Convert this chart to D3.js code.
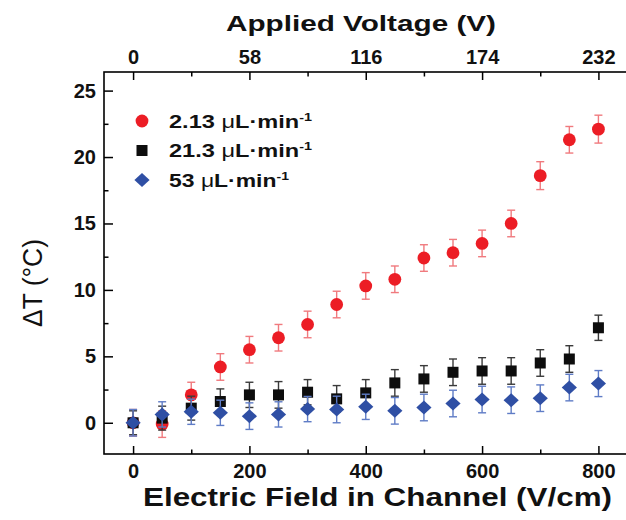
<!DOCTYPE html>
<html>
  <head>
    <meta charset="utf-8">
    <style>
body { margin: 0; background: #fff; }
svg { display: block; font-family: "Liberation Sans", Arial, sans-serif; }
.axis path { display: none; }
.axis line { stroke: #000; stroke-width: 1.5; }
.axis text { font-size: 20px; font-weight: bold; fill: #111; font-family: "Liberation Sans", Arial, sans-serif; }
    </style>
    <script src="https://d3js.org/d3.v7.min.js"></script>
  </head>
  <body>
    <svg width="626" height="520"></svg>
    <script>

// electric field in channel (V/cm)
var field = [0, 50, 100, 150, 200, 250, 300, 350, 400, 450, 500, 550, 600, 650, 700, 750, 800];

// delta T (degC) for each flow rate
var red =   [0, -0.1, 2.1, 4.2, 5.5, 6.4, 7.4, 8.9, 10.3, 10.8, 12.4, 12.8, 13.5, 15.0, 18.6, 21.3, 22.1];
var black = [0, 0.35, 1.1, 1.6, 2.1, 2.1, 2.3, 1.8, 2.25, 3.0, 3.3, 3.8, 3.9, 3.9, 4.5, 4.8, 7.15];
var blue =  [0, 0.63, 0.83, 0.75, 0.5, 0.63, 1.03, 1.0, 1.2, 0.9, 1.15, 1.45, 1.75, 1.7, 1.85, 2.65, 2.95];

var redErr =   [1.0, 1.0, 0.95, 1.0, 1.0, 1.0, 1.0, 1.0, 1.0, 1.0, 1.0, 1.0, 1.0, 1.0, 1.05, 1.0, 1.05];
var blackErr = [0.9, 0.9, 0.9, 0.95, 0.95, 1.0, 0.95, 1.0, 1.0, 1.0, 1.0, 1.0, 1.0, 1.0, 1.0, 1.0, 0.95];
var blueErr =  [1.0, 0.95, 0.95, 0.95, 1.0, 0.95, 0.95, 1.0, 0.95, 1.0, 1.0, 1.0, 1.0, 1.0, 1.0, 1.0, 0.98];

var legendLabels = ["2.13", "21.3", "53"];

var fieldTicks = [0, 200, 400, 600, 800],
    fieldMinor = [100, 300, 500, 700],
    voltTicks = [0, 58, 116, 174, 232],
    voltMinor = [29, 87, 145, 203],
    yTicks = [0, 5, 10, 15, 20, 25],
    yMinor = [2.5, 7.5, 12.5, 17.5, 22.5];

var svg = d3.select("svg");

var x = d3.scaleLinear().domain([-50, 850]).range([104, 627.5]),
    xv = d3.scaleLinear().domain([-50 * 0.29, 850 * 0.29]).range([104, 627.5]),
    y = d3.scaleLinear().domain([-2.35, 26.4]).range([454, 72]);

// frame
svg.append("rect")
  .attr("x", 104).attr("y", 72)
  .attr("width", x.range()[1] - 104).attr("height", 454 - 72)
  .attr("fill", "none").attr("stroke", "#000").attr("stroke-width", 1.6);

// bottom axis
svg.append("g").attr("class", "axis")
  .attr("transform", "translate(0,454)")
  .call(d3.axisBottom(x).tickValues(fieldTicks).tickSize(-8).tickPadding(10).tickFormat(d3.format("d")));
svg.append("g").attr("class", "axis")
  .attr("transform", "translate(0,454)")
  .call(d3.axisBottom(x).tickValues(fieldMinor).tickSize(-4.5).tickFormat(""));

// top axis
svg.append("g").attr("class", "axis")
  .attr("transform", "translate(0,72)")
  .call(d3.axisTop(xv).tickValues(voltTicks).tickSize(-8).tickPadding(8).tickFormat(d3.format("d")));
svg.append("g").attr("class", "axis")
  .attr("transform", "translate(0,72)")
  .call(d3.axisTop(xv).tickValues(voltMinor).tickSize(-4.5).tickFormat(""));

// left axis
svg.append("g").attr("class", "axis")
  .attr("transform", "translate(104,0)")
  .call(d3.axisLeft(y).tickValues(yTicks).tickSize(-9).tickPadding(8).tickFormat(d3.format("d")));
svg.append("g").attr("class", "axis")
  .attr("transform", "translate(104,0)")
  .call(d3.axisLeft(y).tickValues(yMinor).tickSize(-4.5).tickFormat(""));

// axis titles
svg.append("text")
  .attr("x", 226).attr("y", 31)
  .attr("textLength", 270).attr("lengthAdjust", "spacingAndGlyphs")
  .style("font-size", "22px").style("font-weight", "bold").style("fill", "#111")
  .text("Applied Voltage (V)");

svg.append("text")
  .attr("x", 143).attr("y", 506)
  .attr("textLength", 469).attr("lengthAdjust", "spacingAndGlyphs")
  .style("font-size", "25px").style("font-weight", "bold").style("fill", "#111")
  .text("Electric Field in Channel (V/cm)");

svg.append("text")
  .attr("transform", "translate(42,327) rotate(-90)")
  .attr("textLength", 88).attr("lengthAdjust", "spacingAndGlyphs")
  .style("font-size", "27px").style("fill", "#111")
  .text("\u0394T (\u00b0C)");

var series = [
  {vals: red, err: redErr, fill: "#ec1d25", bar: "#f07a7e", shape: "circle"},
  {vals: black, err: blackErr, fill: "#0d0d0d", bar: "#3a3a3a", shape: "square"},
  {vals: blue, err: blueErr, fill: "#2f4fa4", bar: "#5f7cc6", shape: "diamond"}
];

function marker(g, shape, fill) {
  if (shape === "circle") {
    g.append("circle").attr("r", 6.4).attr("fill", fill);
  } else if (shape === "square") {
    g.append("rect").attr("x", -5.5).attr("y", -5.5).attr("width", 11).attr("height", 11).attr("fill", fill);
  } else {
    g.append("path").attr("d", "M0,-7L7.6,0L0,7L-7.6,0Z").attr("fill", fill);
  }
}

series.forEach(function(s) {
  var pts = field.map(function(f, i) { return {f: f, v: s.vals[i], e: s.err[i]}; });
  var g = svg.append("g");
  var eb = g.selectAll(".eb").data(pts).enter().append("g")
    .attr("stroke", s.bar).attr("stroke-width", 1.4);
  eb.append("line")
    .attr("x1", function(d) { return x(d.f); }).attr("x2", function(d) { return x(d.f); })
    .attr("y1", function(d) { return y(d.v - d.e); }).attr("y2", function(d) { return y(d.v + d.e); });
  eb.append("line")
    .attr("x1", function(d) { return x(d.f) - 4; }).attr("x2", function(d) { return x(d.f) + 4; })
    .attr("y1", function(d) { return y(d.v + d.e); }).attr("y2", function(d) { return y(d.v + d.e); });
  eb.append("line")
    .attr("x1", function(d) { return x(d.f) - 4; }).attr("x2", function(d) { return x(d.f) + 4; })
    .attr("y1", function(d) { return y(d.v - d.e); }).attr("y2", function(d) { return y(d.v - d.e); });
  g.selectAll(".pt").data(pts).enter().append("g")
    .attr("transform", function(d) { return "translate(" + x(d.f) + "," + y(d.v) + ")"; })
    .each(function() { marker(d3.select(this), s.shape, s.fill); });
});

// legend
var legendWidths = [143, 143, 120];
series.forEach(function(s, i) {
  var ly = 121 + i * 29.5;
  var m = svg.append("g").attr("transform", "translate(142," + ly + ")");
  marker(m, s.shape, s.fill);
  var t = svg.append("text")
    .attr("transform", "translate(169," + (ly + 6.5) + ")")
    .style("font-size", "18px").style("font-weight", "bold").style("fill", "#111");
  t.append("tspan").text(legendLabels[i] + " ");
  t.append("tspan").style("font-weight", "normal").text("\u03bc");
  t.append("tspan").text("L\u00b7min");
  t.append("tspan").attr("dy", -7).style("font-size", "11px").text("-1");
  var w = t.node().getBBox().width;
  t.attr("transform", "translate(169," + (ly + 6.5) + ") scale(" + (legendWidths[i] / w) + ",1)");
});

    </script>
  </body>
</html>
